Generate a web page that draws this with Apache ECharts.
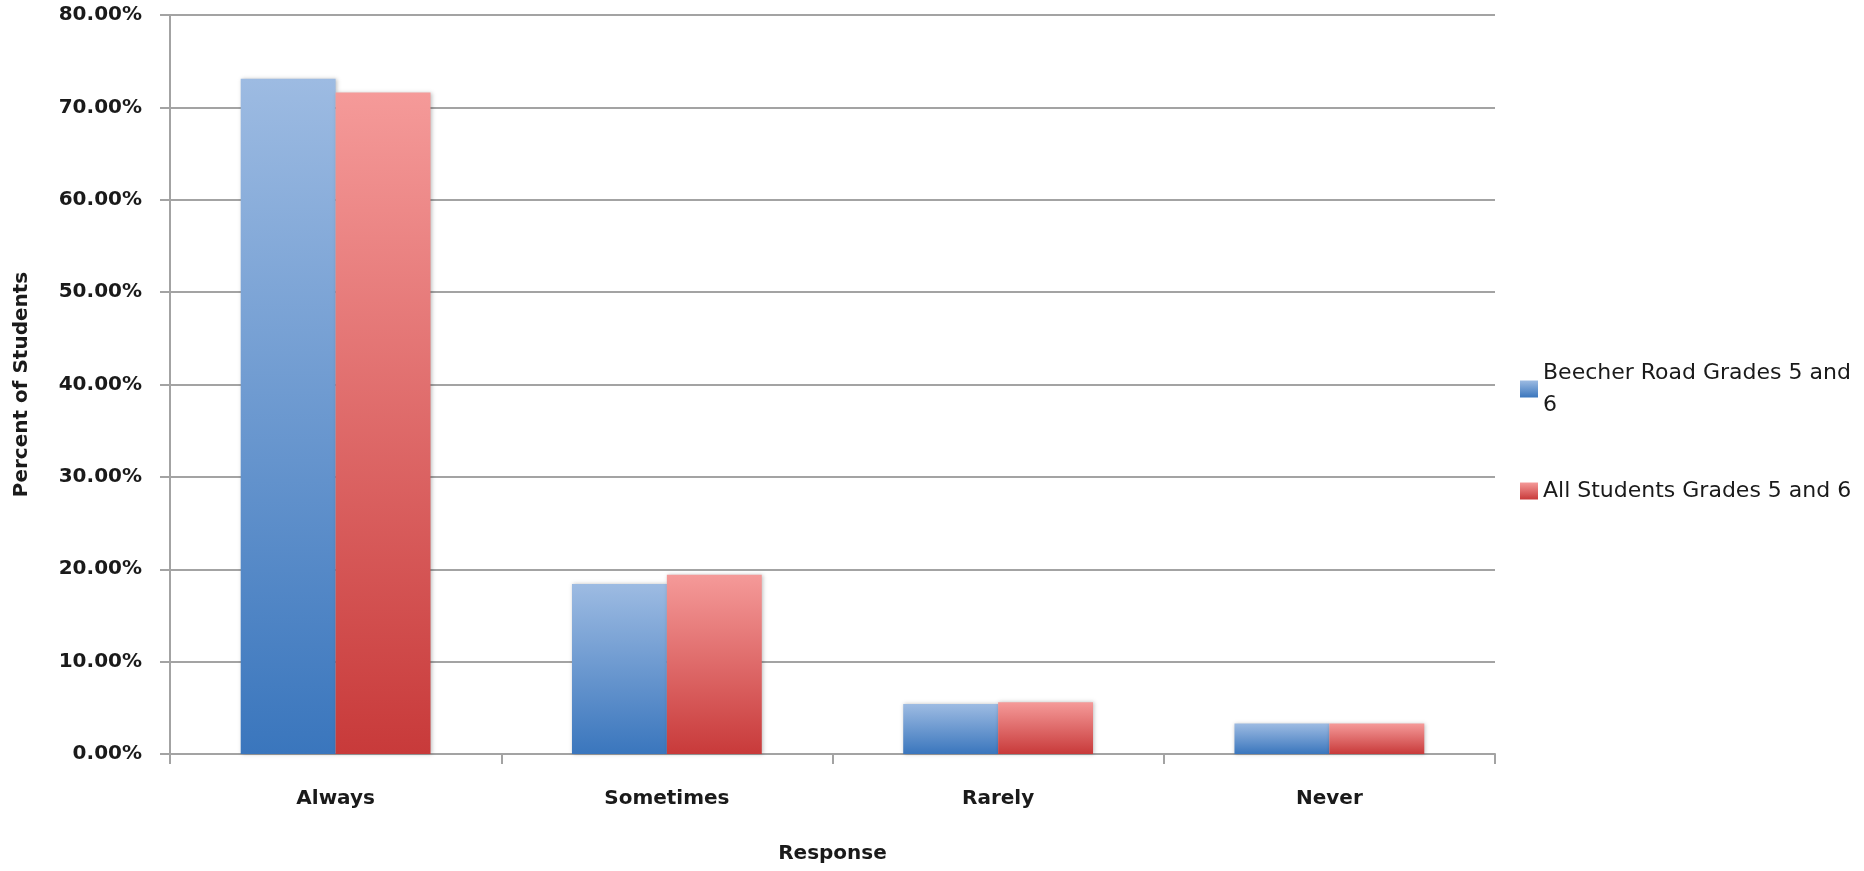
<!DOCTYPE html>
<html>
<head>
<meta charset="utf-8">
<script src="https://cdn.jsdelivr.net/npm/echarts@6/dist/echarts.min.js"></script>
<style>
  html, body { margin: 0; padding: 0; background: #ffffff; }
  #chart { width: 1864px; height: 871px; }
</style>
</head>
<body>
<div id="chart"></div>
<script>
// Survey responses, percent of students
const categories = ['Always', 'Sometimes', 'Rarely', 'Never'];
const seriesNames = ['Beecher Road Grades 5 and 6', 'All Students Grades 5 and 6'];
const beecherValues = [73.1, 18.4, 5.4, 3.3];
const allStudentsValues = [71.6, 19.4, 5.6, 3.3];
const yTicks = { min: 0, max: 80, interval: 10 };

const FONT = '"DejaVu Sans", sans-serif';
const TEXT = '#1a1a1a';
const GRID = '#a3a3a3';

function vGrad(top, bottom) {
  return new echarts.graphic.LinearGradient(0, 0, 0, 1, [
    { offset: 0, color: top },
    { offset: 1, color: bottom }
  ]);
}

const chart = echarts.init(document.getElementById('chart'), null, { renderer: 'canvas' });

chart.setOption({
  animation: false,
  backgroundColor: '#ffffff',
  textStyle: { fontFamily: FONT, color: TEXT },
  grid: { left: 170, right: 369, top: 15, bottom: 117, containLabel: false },
  legend: {
    orient: 'vertical',
    left: 1515,
    top: 336,
    itemWidth: 18,
    itemHeight: 17,
    itemGap: 38,
    icon: 'rect',
    data: [
      // first line of the wrapped name sits level with the swatch
      { name: seriesNames[0], textStyle: { padding: [32, 0, 0, 0] } },
      { name: seriesNames[1] }
    ],
    formatter: function (name) {
      return name === seriesNames[0] ? 'Beecher Road Grades 5 and\n6' : name;
    },
    textStyle: { fontFamily: FONT, fontSize: 22, color: TEXT, lineHeight: 32 }
  },
  xAxis: {
    type: 'category',
    data: categories,
    name: 'Response',
    nameLocation: 'middle',
    nameGap: 90,
    nameTextStyle: { fontFamily: FONT, fontSize: 20, fontWeight: 'bold', color: TEXT },
    axisLine: { lineStyle: { color: GRID, width: 2 } },
    axisTick: { show: true, length: 10, lineStyle: { color: GRID, width: 2 } },
    axisLabel: { margin: 35, fontFamily: FONT, fontSize: 20, fontWeight: 'bold', color: TEXT },
    splitLine: { show: false }
  },
  yAxis: {
    type: 'value',
    min: yTicks.min,
    max: yTicks.max,
    interval: yTicks.interval,
    name: 'Percent of Students',
    nameLocation: 'middle',
    nameGap: 138,
    nameTextStyle: { fontFamily: FONT, fontSize: 20, fontWeight: 'bold', color: TEXT },
    axisLine: { show: true, lineStyle: { color: GRID, width: 2 } },
    axisTick: { show: true, length: 10, lineStyle: { color: GRID, width: 2 } },
    axisLabel: {
      margin: 28,
      fontFamily: FONT,
      fontSize: 20,
      fontWeight: 'bold',
      color: TEXT,
      formatter: function (v) { return v.toFixed(2) + '%'; }
    },
    splitLine: { show: true, lineStyle: { color: GRID, width: 2 } }
  },
  series: [
    {
      name: seriesNames[0],
      type: 'bar',
      data: beecherValues,
      barGap: '0%',
      barCategoryGap: '42.7%',
      itemStyle: {
        color: vGrad('#9dbbe2', '#3a76bd'),
        shadowColor: 'rgba(0,0,0,0.25)',
        shadowBlur: 4,
        shadowOffsetX: 1,
        shadowOffsetY: 0
      }
    },
    {
      name: seriesNames[1],
      type: 'bar',
      data: allStudentsValues,
      barGap: '0%',
      barCategoryGap: '42.7%',
      itemStyle: {
        color: vGrad('#f59a99', '#c83a3a'),
        shadowColor: 'rgba(0,0,0,0.25)',
        shadowBlur: 4,
        shadowOffsetX: 1,
        shadowOffsetY: 0
      }
    }
  ]
});
</script>
</body>
</html>
